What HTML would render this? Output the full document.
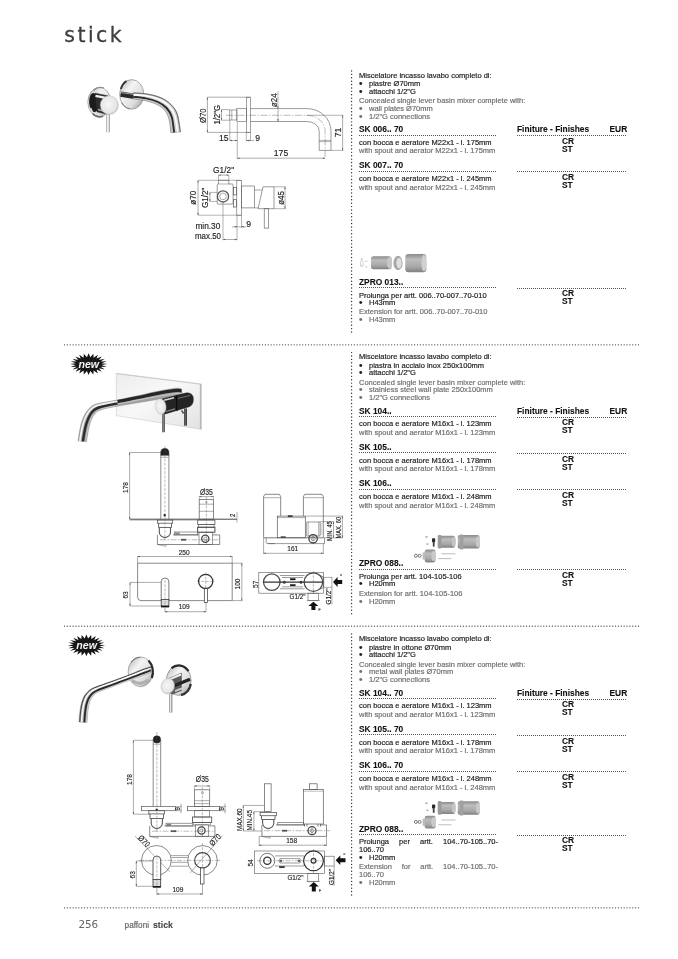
<!DOCTYPE html>
<html lang="it"><head><meta charset="utf-8"><title>paffoni stick</title>
<style>
html,body{margin:0;padding:0;background:#fff}
body{width:678px;height:959px;position:relative;overflow:hidden;font-family:"Liberation Sans",sans-serif}
.t{position:absolute;white-space:nowrap;font-size:7.5px;line-height:10px;color:#1c1c1c;-webkit-text-stroke:0.18px currentColor}
.g{color:#6e6e6e}
.b{font-weight:bold;font-size:8.4px;color:#111;-webkit-text-stroke:0.1px currentColor}
.hd{position:absolute;height:1px;background-image:repeating-linear-gradient(90deg,#8a8a8a 0,#8a8a8a 1px,transparent 1px,transparent 3px)}
.vd{position:absolute;width:1px;background-image:repeating-linear-gradient(180deg,#8a8a8a 0,#8a8a8a 1px,transparent 1px,transparent 3px)}
.sd{position:absolute;height:1px;background-image:repeating-linear-gradient(90deg,#555 0,#555 1px,transparent 1px,transparent 2px)}
.bu{font-size:9px}
svg{position:absolute;overflow:visible}
#page{position:absolute;left:0;top:0;width:678px;height:959px;will-change:transform}
</style></head>
<body>
<div id="page">
<div style="position:absolute;left:64.3px;top:20.5px;font:20.5px/28px 'DejaVu Sans',sans-serif;letter-spacing:2.45px;color:#3e3e3e;-webkit-text-stroke:0.3px #3e3e3e">stick</div>
<div style="position:absolute;left:78.4px;top:917.8px;font:10.4px/13px 'DejaVu Sans',sans-serif;color:#666">256</div>
<div class="t g" style="left:124.6px;top:920.75px;color:#666;font-size:8.2px">paffoni</div>
<div class="t b" style="left:153px;top:920.25px;color:#444;font-size:8.7px">stick</div>
<div class="t " style="left:359px;top:70.75px;">Miscelatore incasso lavabo completo di:</div>
<div class="t " style="left:359.1px;top:78.90px;font-size:10px">•</div>
<div class="t " style="left:369px;top:78.75px;">piastre Ø70mm</div>
<div class="t " style="left:359.1px;top:86.90px;font-size:10px">•</div>
<div class="t " style="left:369px;top:86.75px;">attacchi 1/2"G</div>
<div class="t g" style="left:359px;top:95.75px;">Concealed single lever basin mixer complete with:</div>
<div class="t g" style="left:359.1px;top:103.90px;font-size:10px">•</div>
<div class="t g" style="left:369px;top:103.75px;">wall plates Ø70mm</div>
<div class="t g" style="left:359.1px;top:111.90px;font-size:10px">•</div>
<div class="t g" style="left:369px;top:111.75px;">1/2"G connections</div>
<div class="t b" style="left:359px;top:124.25px;">SK 006.. 70</div>
<div class="sd" style="left:359px;top:134.5px;width:138px"></div>
<div class="sd" style="left:517px;top:135.1px;width:110px"></div>
<div class="t b" style="left:517px;top:124.25px;">Finiture - Finishes</div>
<div class="t b" style="left:609.5px;top:124.25px;">EUR</div>
<div class="t " style="left:359px;top:137.75px;">con bocca e aeratore M22x1 - l. 175mm</div>
<div class="t g" style="left:359px;top:145.75px;">with spout and aerator M22x1 - l. 175mm</div>
<div class="t b" style="left:562px;top:136.25px;">CR</div>
<div class="t b" style="left:562px;top:144.25px;">ST</div>
<div class="t b" style="left:359px;top:160.25px;">SK 007.. 70</div>
<div class="sd" style="left:359px;top:170.8px;width:138px"></div>
<div class="sd" style="left:517px;top:171.4px;width:110px"></div>
<div class="t " style="left:359px;top:173.75px;">con bocca e aeratore M22x1 - l. 245mm</div>
<div class="t g" style="left:359px;top:182.75px;">with spout and aerator M22x1 - l. 245mm</div>
<div class="t b" style="left:562px;top:172.25px;">CR</div>
<div class="t b" style="left:562px;top:180.25px;">ST</div>
<div class="t b" style="left:359px;top:277.25px;">ZPRO 013..</div>
<div class="sd" style="left:359px;top:287.2px;width:138px"></div>
<div class="sd" style="left:517px;top:287.8px;width:110px"></div>
<div class="t " style="left:359px;top:290.75px;">Prolunga per artt. 006..70-007..70-010</div>
<div class="t b" style="left:562px;top:288.25px;">CR</div>
<div class="t b" style="left:562px;top:296.25px;">ST</div>
<div class="t " style="left:359.1px;top:297.90px;font-size:10px">•</div>
<div class="t " style="left:369px;top:297.75px;">H43mm</div>
<div class="t g" style="left:359px;top:306.75px;">Extension for artt. 006..70-007..70-010</div>
<div class="t g" style="left:359.1px;top:314.90px;font-size:10px">•</div>
<div class="t g" style="left:369px;top:314.75px;">H43mm</div>
<div class="t " style="left:359px;top:351.75px;">Miscelatore incasso lavabo completo di:</div>
<div class="t " style="left:359.1px;top:360.90px;font-size:10px">•</div>
<div class="t " style="left:369px;top:360.75px;">piastra in acciaio inox 250x100mm</div>
<div class="t " style="left:359.1px;top:367.90px;font-size:10px">•</div>
<div class="t " style="left:369px;top:367.75px;">attacchi 1/2"G</div>
<div class="t g" style="left:359px;top:377.75px;">Concealed single lever basin mixer complete with:</div>
<div class="t g" style="left:359.1px;top:384.90px;font-size:10px">•</div>
<div class="t g" style="left:369px;top:384.75px;">stainless steel wall plate 250x100mm</div>
<div class="t g" style="left:359.1px;top:392.90px;font-size:10px">•</div>
<div class="t g" style="left:369px;top:392.75px;">1/2"G connections</div>
<div class="t b" style="left:359px;top:406.25px;">SK 104..</div>
<div class="sd" style="left:359px;top:416.0px;width:138px"></div>
<div class="sd" style="left:517px;top:416.6px;width:110px"></div>
<div class="t b" style="left:517px;top:406.25px;">Finiture - Finishes</div>
<div class="t b" style="left:609.5px;top:406.25px;">EUR</div>
<div class="t " style="left:359px;top:418.75px;">con bocca e aeratore M16x1 - l. 123mm</div>
<div class="t g" style="left:359px;top:427.75px;">with spout and aerator M16x1 - l. 123mm</div>
<div class="t b" style="left:562px;top:417.25px;">CR</div>
<div class="t b" style="left:562px;top:425.25px;">ST</div>
<div class="t b" style="left:359px;top:442.25px;">SK 105..</div>
<div class="sd" style="left:359px;top:452.4px;width:138px"></div>
<div class="sd" style="left:517px;top:453.0px;width:110px"></div>
<div class="t " style="left:359px;top:455.75px;">con bocca e aeratore M16x1 - l. 178mm</div>
<div class="t g" style="left:359px;top:463.75px;">with spout and aerator M16x1 - l. 178mm</div>
<div class="t b" style="left:562px;top:454.25px;">CR</div>
<div class="t b" style="left:562px;top:462.25px;">ST</div>
<div class="t b" style="left:359px;top:478.25px;">SK 106..</div>
<div class="sd" style="left:359px;top:488.8px;width:138px"></div>
<div class="sd" style="left:517px;top:489.40000000000003px;width:110px"></div>
<div class="t " style="left:359px;top:491.75px;">con bocca e aeratore M16x1 - l. 248mm</div>
<div class="t g" style="left:359px;top:500.75px;">with spout and aerator M16x1 - l. 248mm</div>
<div class="t b" style="left:562px;top:490.25px;">CR</div>
<div class="t b" style="left:562px;top:498.25px;">ST</div>
<div class="t b" style="left:359px;top:558.25px;">ZPRO 088..</div>
<div class="sd" style="left:359px;top:568.6999999999999px;width:138px"></div>
<div class="sd" style="left:517px;top:569.3px;width:110px"></div>
<div class="t " style="left:359px;top:571.75px;">Prolunga per artt. 104-105-106</div>
<div class="t b" style="left:562px;top:570.25px;">CR</div>
<div class="t b" style="left:562px;top:578.25px;">ST</div>
<div class="t " style="left:359.1px;top:578.90px;font-size:10px">•</div>
<div class="t " style="left:369px;top:578.75px;">H20mm</div>
<div class="t g" style="left:359px;top:588.75px;">Extension for artt. 104-105-106</div>
<div class="t g" style="left:359.1px;top:596.90px;font-size:10px">•</div>
<div class="t g" style="left:369px;top:596.75px;">H20mm</div>
<div class="t " style="left:359px;top:633.75px;">Miscelatore incasso lavabo completo di:</div>
<div class="t " style="left:359.1px;top:642.90px;font-size:10px">•</div>
<div class="t " style="left:369px;top:642.75px;">piastre in ottone Ø70mm</div>
<div class="t " style="left:359.1px;top:649.90px;font-size:10px">•</div>
<div class="t " style="left:369px;top:649.75px;">attacchi 1/2"G</div>
<div class="t g" style="left:359px;top:659.75px;">Concealed single lever basin mixer complete with:</div>
<div class="t g" style="left:359.1px;top:666.90px;font-size:10px">•</div>
<div class="t g" style="left:369px;top:666.75px;">metal wall plates Ø70mm</div>
<div class="t g" style="left:359.1px;top:674.90px;font-size:10px">•</div>
<div class="t g" style="left:369px;top:674.75px;">1/2"G connections</div>
<div class="t b" style="left:359px;top:688.25px;">SK 104.. 70</div>
<div class="sd" style="left:359px;top:698.0px;width:138px"></div>
<div class="sd" style="left:517px;top:698.6px;width:110px"></div>
<div class="t b" style="left:517px;top:688.25px;">Finiture - Finishes</div>
<div class="t b" style="left:609.5px;top:688.25px;">EUR</div>
<div class="t " style="left:359px;top:700.75px;">con bocca e aeratore M16x1 - l. 123mm</div>
<div class="t g" style="left:359px;top:709.75px;">with spout and aerator M16x1 - l. 123mm</div>
<div class="t b" style="left:562px;top:699.25px;">CR</div>
<div class="t b" style="left:562px;top:707.25px;">ST</div>
<div class="t b" style="left:359px;top:724.25px;">SK 105.. 70</div>
<div class="sd" style="left:359px;top:734.4px;width:138px"></div>
<div class="sd" style="left:517px;top:735.0px;width:110px"></div>
<div class="t " style="left:359px;top:737.75px;">con bocca e aeratore M16x1 - l. 178mm</div>
<div class="t g" style="left:359px;top:745.75px;">with spout and aerator M16x1 - l. 178mm</div>
<div class="t b" style="left:562px;top:736.25px;">CR</div>
<div class="t b" style="left:562px;top:744.25px;">ST</div>
<div class="t b" style="left:359px;top:760.25px;">SK 106.. 70</div>
<div class="sd" style="left:359px;top:770.8px;width:138px"></div>
<div class="sd" style="left:517px;top:771.4px;width:110px"></div>
<div class="t " style="left:359px;top:773.75px;">con bocca e aeratore M16x1 - l. 248mm</div>
<div class="t g" style="left:359px;top:782.75px;">with spout and aerator M16x1 - l. 248mm</div>
<div class="t b" style="left:562px;top:772.25px;">CR</div>
<div class="t b" style="left:562px;top:780.25px;">ST</div>
<div class="t b" style="left:359px;top:824.25px;">ZPRO 088..</div>
<div class="sd" style="left:359px;top:834.0px;width:138px"></div>
<div class="sd" style="left:517px;top:834.6px;width:110px"></div>
<div class="t b" style="left:562px;top:835.25px;">CR</div>
<div class="t b" style="left:562px;top:843.25px;">ST</div>
<div class="t " style="left:359px;top:836.75px;width:139px;white-space:normal;text-align:justify;text-align-last:justify">Prolunga per artt. 104..70-105..70-</div>
<div class="t " style="left:359px;top:844.75px;">106..70</div>
<div class="t " style="left:359.1px;top:852.90px;font-size:10px">•</div>
<div class="t " style="left:369px;top:852.75px;">H20mm</div>
<div class="t g" style="left:359px;top:861.75px;width:139px;white-space:normal;text-align:justify;text-align-last:justify">Extension for artt. 104..70-105..70-</div>
<div class="t g" style="left:359px;top:869.75px;">106..70</div>
<div class="t g" style="left:359.1px;top:877.90px;font-size:10px">•</div>
<div class="t g" style="left:369px;top:877.75px;">H20mm</div>
<svg width="678" height="959" viewBox="0 0 678 959" style="left:0;top:0" font-family="Liberation Sans, sans-serif"><line x1="64.5" y1="344.8" x2="639.5" y2="344.8" stroke="#444" stroke-width="1.3" stroke-linecap="round" stroke-dasharray="0.01 2.86"/>
<line x1="64.5" y1="626.2" x2="639.5" y2="626.2" stroke="#444" stroke-width="1.3" stroke-linecap="round" stroke-dasharray="0.01 2.86"/>
<line x1="64.5" y1="907.8" x2="639.5" y2="907.8" stroke="#444" stroke-width="1.3" stroke-linecap="round" stroke-dasharray="0.01 2.86"/>
<line x1="351.6" y1="71" x2="351.6" y2="334.5" stroke="#333" stroke-width="1.4" stroke-linecap="round" stroke-dasharray="0.01 3.38"/>
<line x1="351.6" y1="352.6" x2="351.6" y2="616.1" stroke="#333" stroke-width="1.4" stroke-linecap="round" stroke-dasharray="0.01 3.38"/>
<line x1="351.6" y1="633.9" x2="351.6" y2="897.4" stroke="#333" stroke-width="1.4" stroke-linecap="round" stroke-dasharray="0.01 3.38"/>
<g>
<line x1="207.4" y1="97.2" x2="207.4" y2="132.4" stroke="#585858" stroke-width="0.5" />
<path d="M207.4 97.2l-0.7 2.2h1.4zM207.4 132.4l-0.7 -2.2h1.4z" fill="#585858"/>
<line x1="207.4" y1="97.2" x2="250.5" y2="97.2" stroke="#585858" stroke-width="0.5" />
<line x1="207.4" y1="132.4" x2="250.5" y2="132.4" stroke="#585858" stroke-width="0.5" />
<text x="206.3" y="123" font-size="8.6" text-anchor="start" fill="#222" stroke="#222" stroke-width="0.15" transform="rotate(-90 206.3 123)"  textLength="14.6" lengthAdjust="spacingAndGlyphs">Ø70</text>
<text x="219.9" y="124.6" font-size="8.6" text-anchor="start" fill="#222" stroke="#222" stroke-width="0.15" transform="rotate(-90 219.9 124.6)"  textLength="19.5" lengthAdjust="spacingAndGlyphs">1/2"G</text>
<line x1="221.5" y1="109.6" x2="221.5" y2="120.2" stroke="#585858" stroke-width="0.5" />
<path d="M221.5 109.6l-0.7 2.2h1.4zM221.5 120.2l-0.7 -2.2h1.4z" fill="#585858"/>
<line x1="221.5" y1="109.6" x2="229.8" y2="109.6" stroke="#585858" stroke-width="0.5" />
<line x1="221.5" y1="120.2" x2="229.8" y2="120.2" stroke="#585858" stroke-width="0.5" />
<rect x="229.8" y="110" width="7.1" height="10" stroke="#585858" stroke-width="0.55" fill="none" />
<line x1="231.8" y1="110" x2="231.8" y2="120" stroke="#585858" stroke-width="0.45" />
<rect x="236.9" y="108.6" width="9.4" height="13" stroke="#585858" stroke-width="0.55" fill="none" />
<rect x="246.3" y="97.2" width="4.2" height="35.2" stroke="#585858" stroke-width="0.55" fill="none" />
<line x1="246.3" y1="132.4" x2="246.3" y2="141.2" stroke="#585858" stroke-width="0.45" />
<line x1="250.5" y1="132.4" x2="250.5" y2="141.2" stroke="#585858" stroke-width="0.45" />
<path d="M250.5 108.6H306.9A24.1 22.4 0 0 1 331 131V150.4H319.2V131A12.3 9.5 0 0 0 306.9 121.5H250.5" stroke="#585858" stroke-width="0.6" fill="none" />
<line x1="319.2" y1="140.4" x2="331" y2="140.4" stroke="#585858" stroke-width="0.45" />
<line x1="319.2" y1="141.6" x2="331" y2="141.6" stroke="#585858" stroke-width="0.45" />
<path d="M226 115.3H306.9A18.2 15.8 0 0 1 325.1 131V158.4" stroke="#555" stroke-width="0.4" fill="none" stroke-dasharray="7 1.5 1.5 1.5"/>
<line x1="306.9" y1="115.3" x2="343.5" y2="115.3" stroke="#585858" stroke-width="0.45" />
<line x1="331" y1="150.4" x2="343.5" y2="150.4" stroke="#585858" stroke-width="0.45" />
<line x1="342.6" y1="115.3" x2="342.6" y2="150.4" stroke="#585858" stroke-width="0.5" />
<path d="M342.6 115.3l-0.7 2.2h1.4zM342.6 150.4l-0.7 -2.2h1.4z" fill="#585858"/>
<text x="341.3" y="137.3" font-size="8.6" text-anchor="start" fill="#222" stroke="#222" stroke-width="0.15" transform="rotate(-90 341.3 137.3)" >71</text>
<line x1="237.3" y1="121.6" x2="237.3" y2="159" stroke="#585858" stroke-width="0.45" />
<line x1="237.3" y1="158.2" x2="325.1" y2="158.2" stroke="#585858" stroke-width="0.5" />
<path d="M237.3 158.2l2.2 -0.7v1.4zM325.1 158.2l-2.2 -0.7v1.4z" fill="#585858"/>
<text x="281" y="156.2" font-size="8.6" text-anchor="middle" fill="#222" stroke="#222" stroke-width="0.15" >175</text>
<line x1="229.8" y1="120" x2="229.8" y2="141.2" stroke="#585858" stroke-width="0.45" />
<line x1="229.8" y1="140.5" x2="237.3" y2="140.5" stroke="#585858" stroke-width="0.5" />
<path d="M229.8 140.5l2.2 -0.7v1.4zM237.3 140.5l-2.2 -0.7v1.4z" fill="#585858"/>
<text x="219" y="140.7" font-size="8.6" text-anchor="start" fill="#222" stroke="#222" stroke-width="0.15" >15</text>
<line x1="246.3" y1="140.5" x2="250.5" y2="140.5" stroke="#585858" stroke-width="0.5" />
<path d="M246.3 140.5l2.2 -0.7v1.4zM250.5 140.5l-2.2 -0.7v1.4z" fill="#585858"/>
<line x1="250.5" y1="140.5" x2="254" y2="140.5" stroke="#585858" stroke-width="0.45" />
<text x="255.2" y="140.7" font-size="8.6" text-anchor="start" fill="#222" stroke="#222" stroke-width="0.15" >9</text>
<line x1="278" y1="91" x2="278" y2="121.5" stroke="#585858" stroke-width="0.45" />
<path d="M278 108.6l-.7 -2.2h1.4zM278 121.5l-.7 -2.2h1.4z" fill="#444"/>
<text x="276.6" y="107" font-size="8.6" text-anchor="start" fill="#222" stroke="#222" stroke-width="0.15" transform="rotate(-90 276.6 107)"  textLength="13.5" lengthAdjust="spacingAndGlyphs">ø24</text>
</g>
<g>
<text x="213.1" y="172.7" font-size="8.6" text-anchor="start" fill="#222" stroke="#222" stroke-width="0.15"  textLength="21" lengthAdjust="spacingAndGlyphs">G1/2"</text>
<line x1="218.5" y1="175.1" x2="228.8" y2="175.1" stroke="#585858" stroke-width="0.5" />
<path d="M218.5 175.1l2.2 -0.7v1.4zM228.8 175.1l-2.2 -0.7v1.4z" fill="#585858"/>
<line x1="218.5" y1="175.1" x2="218.5" y2="180.3" stroke="#585858" stroke-width="0.45" />
<line x1="228.8" y1="175.1" x2="228.8" y2="180.3" stroke="#585858" stroke-width="0.45" />
<line x1="198" y1="180.3" x2="198" y2="215.2" stroke="#585858" stroke-width="0.5" />
<path d="M198 180.3l-0.7 2.2h1.4zM198 215.2l-0.7 -2.2h1.4z" fill="#585858"/>
<line x1="198" y1="180.3" x2="241.5" y2="180.3" stroke="#585858" stroke-width="0.45" />
<line x1="198" y1="215.2" x2="241.5" y2="215.2" stroke="#585858" stroke-width="0.45" />
<text x="196.4" y="204.8" font-size="8.6" text-anchor="start" fill="#222" stroke="#222" stroke-width="0.15" transform="rotate(-90 196.4 204.8)"  textLength="14" lengthAdjust="spacingAndGlyphs">ø70</text>
<text x="208.2" y="208" font-size="8.6" text-anchor="start" fill="#222" stroke="#222" stroke-width="0.15" transform="rotate(-90 208.2 208)"  textLength="20.3" lengthAdjust="spacingAndGlyphs">G1/2"</text>
<line x1="209.9" y1="192.4" x2="209.9" y2="201.4" stroke="#585858" stroke-width="0.5" />
<path d="M209.9 192.4l-0.7 2.2h1.4zM209.9 201.4l-0.7 -2.2h1.4z" fill="#585858"/>
<line x1="209.9" y1="192.4" x2="217.2" y2="192.4" stroke="#585858" stroke-width="0.45" />
<line x1="209.9" y1="201.4" x2="217.2" y2="201.4" stroke="#585858" stroke-width="0.45" />
<path d="M218.5 180.3H228.8V184H232.3Q233.1 184 233.1 185V203Q233.1 204.1 232 204.1H218.3Q217.2 204.1 217.2 203V185Q217.2 184 218.5 184Z" stroke="#585858" stroke-width="0.6" fill="none" />
<line x1="218.5" y1="184" x2="228.8" y2="184" stroke="#585858" stroke-width="0.45" />
<circle cx="223" cy="196.4" r="5.6" stroke="#555" stroke-width="1.3" fill="none" />
<circle cx="223" cy="196.4" r="3.3" stroke="#585858" stroke-width="0.5" fill="none" />
<rect x="233.5" y="187.6" width="3" height="7.3" stroke="#555" stroke-width="0.7" fill="none" />
<rect x="233.5" y="199.7" width="3" height="7.3" stroke="#555" stroke-width="0.7" fill="none" />
<rect x="236.8" y="180.3" width="4.7" height="34.9" stroke="#585858" stroke-width="0.55" fill="none" />
<line x1="237" y1="215.2" x2="237" y2="240.3" stroke="#585858" stroke-width="0.45" />
<line x1="241.5" y1="215.2" x2="241.5" y2="228" stroke="#585858" stroke-width="0.45" />
<rect x="241.5" y="186" width="13" height="21.9" stroke="#585858" stroke-width="0.6" fill="none" />
<path d="M254.5 190H262M254.5 207.9H258.3" stroke="#585858" stroke-width="0.55" fill="none" />
<path d="M263 186.8H274V208.7H258.1L263 186.8Z" stroke="#585858" stroke-width="0.6" fill="none" />
<rect x="264.2" y="208.7" width="4.5" height="19.4" stroke="#585858" stroke-width="0.6" fill="none" />
<line x1="274" y1="186.8" x2="285.8" y2="186.8" stroke="#585858" stroke-width="0.45" />
<line x1="274" y1="208.7" x2="285.8" y2="208.7" stroke="#585858" stroke-width="0.45" />
<line x1="285" y1="186.8" x2="285" y2="208.7" stroke="#585858" stroke-width="0.5" />
<path d="M285 186.8l-0.7 2.2h1.4zM285 208.7l-0.7 -2.2h1.4z" fill="#585858"/>
<text x="284" y="204.8" font-size="8.6" text-anchor="start" fill="#222" stroke="#222" stroke-width="0.15" transform="rotate(-90 284 204.8)"  textLength="13.7" lengthAdjust="spacingAndGlyphs">ø45</text>
<line x1="231.8" y1="226.8" x2="246" y2="226.8" stroke="#585858" stroke-width="0.45" />
<path d="M237 226.8l-2.2 -.7v1.4zM241.5 226.8l2.2 -.7v1.4z" fill="#444"/>
<text x="246.2" y="227.3" font-size="8.6" text-anchor="start" fill="#222" stroke="#222" stroke-width="0.15" >9</text>
<text x="195.4" y="229.4" font-size="8.6" text-anchor="start" fill="#222" stroke="#222" stroke-width="0.15"  textLength="25" lengthAdjust="spacingAndGlyphs">min.30</text>
<text x="195" y="239" font-size="8.6" text-anchor="start" fill="#222" stroke="#222" stroke-width="0.15"  textLength="26" lengthAdjust="spacingAndGlyphs">max.50</text>
<line x1="223" y1="202.5" x2="223" y2="240.3" stroke="#585858" stroke-width="0.45" />
<line x1="223" y1="239.5" x2="237" y2="239.5" stroke="#585858" stroke-width="0.5" />
<path d="M223 239.5l2.2 -0.7v1.4zM237 239.5l-2.2 -0.7v1.4z" fill="#585858"/>
</g>
<g>
<line x1="129.6" y1="452.5" x2="129.6" y2="519.2" stroke="#585858" stroke-width="0.5" />
<path d="M129.6 452.5l-0.7 2.2h1.4zM129.6 519.2l-0.7 -2.2h1.4z" fill="#585858"/>
<line x1="129.6" y1="452.5" x2="161" y2="452.5" stroke="#585858" stroke-width="0.5" />
<text x="128" y="493" font-size="7.8" text-anchor="start" fill="#222" stroke="#222" stroke-width="0.15" transform="translate(128 493) rotate(-90) scale(0.84 1) translate(-128 -493)" >178</text>
<line x1="129.6" y1="519.2" x2="237" y2="519.2" stroke="#333" stroke-width="0.9" />
<line x1="129.6" y1="520.2" x2="215" y2="520.2" stroke="#555" stroke-width="0.4" />
<path d="M160.8 519.2V454.5M168.9 454.5V519.2" stroke="#585858" stroke-width="0.7" fill="none" />
<path d="M160.8 455.3V452.3A4.05 3.9 0 0 1 168.9 452.3V455.3Z" stroke="#222" stroke-width="0.5" fill="#222" />
<line x1="161" y1="457.3" x2="168.7" y2="457.3" stroke="#585858" stroke-width="0.5" />
<line x1="164.9" y1="446" x2="164.9" y2="540" stroke="#555" stroke-width="0.4" stroke-dasharray="3 1.2"/>
<rect x="163.9" y="514.5" width="1.8" height="1.8" stroke="#222" stroke-width="0.3" fill="#222" />
<line x1="237" y1="512" x2="237" y2="522.5" stroke="#585858" stroke-width="0.5" />
<text x="235.2" y="517" font-size="7.2" text-anchor="start" fill="#222" stroke="#222" stroke-width="0.15" transform="translate(235.2 517) rotate(-90) scale(0.84 1) translate(-235.2 -517)" >2</text>
<text x="206.4" y="494.6" font-size="8.16" text-anchor="middle" fill="#222" stroke="#222" stroke-width="0.15" transform="translate(206.4 494.6) scale(0.84 1) translate(-206.4 -494.6)" >Ø35</text>
<line x1="199.2" y1="496.6" x2="213.6" y2="496.6" stroke="#585858" stroke-width="0.5" />
<path d="M199.2 496.6l2.2 -0.7v1.4zM213.6 496.6l-2.2 -0.7v1.4z" fill="#585858"/>
<line x1="199.2" y1="496" x2="199.2" y2="499.4" stroke="#585858" stroke-width="0.4" />
<line x1="213.6" y1="496" x2="213.6" y2="499.4" stroke="#585858" stroke-width="0.4" />
<rect x="199.2" y="499.4" width="14.4" height="19.8" stroke="#585858" stroke-width="0.7" fill="none" />
<line x1="199.2" y1="504.2" x2="213.6" y2="504.2" stroke="#585858" stroke-width="0.5" />
<line x1="199.2" y1="511.3" x2="213.6" y2="511.3" stroke="#585858" stroke-width="0.5" />
<line x1="206.4" y1="497" x2="206.4" y2="545" stroke="#555" stroke-width="0.4" stroke-dasharray="3 1.2"/>
<circle cx="206.4" cy="502" r="0.9" stroke="#585858" stroke-width="0.4" fill="none" />
<rect x="197.7" y="520" width="17.2" height="4.4" stroke="#585858" stroke-width="0.8" fill="none" />
<rect x="198.6" y="524.4" width="15.4" height="2.8" stroke="#585858" stroke-width="0.6" fill="none" />
<rect x="197.7" y="527.2" width="17.2" height="5" stroke="#333" stroke-width="0.9" fill="none" />
<rect x="199" y="532.2" width="13.5" height="12.3" stroke="#585858" stroke-width="0.6" fill="none" />
<circle cx="205.3" cy="538.8" r="3.6" stroke="#444" stroke-width="1.3" fill="none" />
<circle cx="205.3" cy="538.8" r="1.6" stroke="#585858" stroke-width="0.5" fill="none" />
<rect x="157.4" y="520" width="15.3" height="3.2" stroke="#585858" stroke-width="0.8" fill="none" />
<path d="M158.6 523.2V527.5H171.5V523.2" stroke="#585858" stroke-width="0.9" fill="none" />
<path d="M159.3 527.5V532A5.6 5.6 0 0 0 170.5 532V527.5" stroke="#585858" stroke-width="1.1" fill="none" />
<path d="M157.4 534.9V544.5H219.7V534.9H212.5M199 534.9H173" stroke="#585858" stroke-width="0.7" fill="none" />
<line x1="157.4" y1="544.5" x2="166" y2="546.3" stroke="#585858" stroke-width="0.5" />
<line x1="166" y1="546.3" x2="166" y2="544.5" stroke="#585858" stroke-width="0.5" />
<line x1="160" y1="539.8" x2="219" y2="539.8" stroke="#555" stroke-width="0.4" stroke-dasharray="6 1.5 1.5 1.5"/>
<rect x="174.6" y="532" width="23.1" height="2.9" stroke="#585858" stroke-width="0.6" fill="none" />
<rect x="175.5" y="532.8" width="4" height="1.3" stroke="#666" stroke-width="0.3" fill="#888" />
<rect x="181" y="539" width="5" height="1.4" stroke="#444" stroke-width="0.3" fill="#555" />
</g>
<g>
<path d="M263.6 537.5V496.5L265 494.3H279.3L280.7 496.5V516" stroke="#585858" stroke-width="0.7" fill="none" />
<line x1="263.6" y1="497.7" x2="280.7" y2="497.7" stroke="#585858" stroke-width="0.5" />
<path d="M303.4 516V496.5L304.8 494.3H321.9L323.3 496.5V537.5" stroke="#585858" stroke-width="0.7" fill="none" />
<line x1="303.4" y1="497.7" x2="323.3" y2="497.7" stroke="#585858" stroke-width="0.5" />
<rect x="277.3" y="516.1" width="28" height="21.7" stroke="#585858" stroke-width="0.7" fill="none" />
<line x1="277.3" y1="517.6" x2="305.3" y2="517.6" stroke="#585858" stroke-width="0.5" />
<rect x="288" y="515.6" width="4.5" height="1.2" stroke="#222" stroke-width="0.3" fill="#222" />
<rect x="281" y="536.6" width="4.5" height="1.2" stroke="#222" stroke-width="0.3" fill="#222" />
<line x1="263.6" y1="537.8" x2="323.3" y2="537.8" stroke="#585858" stroke-width="0.8" />
<path d="M266.2 537.8V542.5Q266.2 543.6 268 543.6H275M268 543.6H324.5V537.8" stroke="#585858" stroke-width="0.6" fill="none" />
<rect x="306.8" y="522" width="13.2" height="14" stroke="#585858" stroke-width="0.6" fill="none" />
<line x1="308.3" y1="522" x2="308.3" y2="536" stroke="#585858" stroke-width="0.4" />
<line x1="318.5" y1="522" x2="318.5" y2="536" stroke="#585858" stroke-width="0.4" />
<path d="M320 524h2.2M320 526h2.2M320 528h2.2M320 530h2.2M320 532h2.2M320 534h2.2" stroke="#585858" stroke-width="0.4" fill="none" />
<circle cx="313.1" cy="538.8" r="4.2" stroke="#444" stroke-width="1.3" fill="none" />
<circle cx="313.1" cy="538.8" r="2" stroke="#585858" stroke-width="0.5" fill="none" />
<line x1="313.1" y1="535.5" x2="313.1" y2="541.2" stroke="#585858" stroke-width="0.6" />
<line x1="263.6" y1="537.8" x2="263.6" y2="554" stroke="#585858" stroke-width="0.5" />
<line x1="323.3" y1="543.6" x2="323.3" y2="554" stroke="#585858" stroke-width="0.5" />
<line x1="263.6" y1="553.3" x2="323.3" y2="553.3" stroke="#585858" stroke-width="0.5" />
<path d="M263.6 553.3l2.2 -0.7v1.4zM323.3 553.3l-2.2 -0.7v1.4z" fill="#585858"/>
<text x="292.8" y="551" font-size="7.8" text-anchor="middle" fill="#222" stroke="#222" stroke-width="0.15" transform="translate(292.8 551) scale(0.84 1) translate(-292.8 -551)" >161</text>
<line x1="305.3" y1="516.1" x2="343.2" y2="516.1" stroke="#585858" stroke-width="0.5" />
<line x1="320" y1="521.7" x2="334.3" y2="521.7" stroke="#585858" stroke-width="0.5" />
<line x1="323.3" y1="537.8" x2="343.2" y2="537.8" stroke="#585858" stroke-width="0.5" />
<line x1="333.5" y1="521.7" x2="333.5" y2="537.8" stroke="#585858" stroke-width="0.5" />
<path d="M333.5 521.7l-0.7 2.2h1.4zM333.5 537.8l-0.7 -2.2h1.4z" fill="#585858"/>
<line x1="342.4" y1="516.1" x2="342.4" y2="537.8" stroke="#585858" stroke-width="0.5" />
<path d="M342.4 516.1l-0.7 2.2h1.4zM342.4 537.8l-0.7 -2.2h1.4z" fill="#585858"/>
<text x="332" y="541" font-size="6.72" text-anchor="start" fill="#222" stroke="#222" stroke-width="0.15" transform="translate(332 541) rotate(-90) scale(0.84 1) translate(-332 -541)" >MIN. 45</text>
<text x="340.9" y="538.5" font-size="6.72" text-anchor="start" fill="#222" stroke="#222" stroke-width="0.15" transform="translate(340.9 538.5) rotate(-90) scale(0.84 1) translate(-340.9 -538.5)" >MAX. 60</text>
</g>
<g>
<path d="M137.6 563.2H232.2V600.6H141Q137.6 600.6 137.6 597Z" stroke="#585858" stroke-width="0.7" fill="none" />
<line x1="137.6" y1="556" x2="137.6" y2="563.2" stroke="#585858" stroke-width="0.5" />
<line x1="232.2" y1="556" x2="232.2" y2="563.2" stroke="#585858" stroke-width="0.5" />
<line x1="137.6" y1="556.5" x2="232.2" y2="556.5" stroke="#585858" stroke-width="0.5" />
<path d="M137.6 556.5l2.2 -0.7v1.4zM232.2 556.5l-2.2 -0.7v1.4z" fill="#585858"/>
<text x="184.2" y="554.6" font-size="7.8" text-anchor="middle" fill="#222" stroke="#222" stroke-width="0.15" transform="translate(184.2 554.6) scale(0.84 1) translate(-184.2 -554.6)" >250</text>
<line x1="232.2" y1="563.2" x2="242.6" y2="563.2" stroke="#585858" stroke-width="0.5" />
<line x1="232.2" y1="600.6" x2="242.6" y2="600.6" stroke="#585858" stroke-width="0.5" />
<line x1="241.8" y1="563.2" x2="241.8" y2="600.6" stroke="#585858" stroke-width="0.5" />
<path d="M241.8 563.2l-0.7 2.2h1.4zM241.8 600.6l-0.7 -2.2h1.4z" fill="#585858"/>
<text x="240.2" y="589.5" font-size="7.8" text-anchor="start" fill="#222" stroke="#222" stroke-width="0.15" transform="translate(240.2 589.5) rotate(-90) scale(0.84 1) translate(-240.2 -589.5)" >100</text>
<path d="M161.2 599.6V582A3.85 4 0 0 1 168.9 582V599.6" stroke="#585858" stroke-width="0.8" fill="none" />
<rect x="161.2" y="599.6" width="7.7" height="6.4" stroke="#333" stroke-width="0.8" fill="#ddd" />
<line x1="161" y1="606.6" x2="169.1" y2="606.6" stroke="#111" stroke-width="1.6" />
<line x1="165" y1="580" x2="165" y2="606" stroke="#555" stroke-width="0.4" stroke-dasharray="3 1.2"/>
<circle cx="205.7" cy="581.4" r="7.1" stroke="#333" stroke-width="1.3" fill="none" />
<line x1="197" y1="581.4" x2="214.5" y2="581.4" stroke="#555" stroke-width="0.4" stroke-dasharray="3 1.2"/>
<line x1="205.7" y1="572.5" x2="205.7" y2="590" stroke="#555" stroke-width="0.4" stroke-dasharray="3 1.2"/>
<rect x="204.3" y="588.7" width="3.3" height="13.8" stroke="#333" stroke-width="0.7" fill="#fff" />
<line x1="130" y1="582.4" x2="161" y2="582.4" stroke="#585858" stroke-width="0.5" />
<line x1="130" y1="606" x2="161" y2="606" stroke="#585858" stroke-width="0.5" />
<line x1="130" y1="582.4" x2="130" y2="606" stroke="#585858" stroke-width="0.5" />
<path d="M130 582.4l-0.7 2.2h1.4zM130 606l-0.7 -2.2h1.4z" fill="#585858"/>
<text x="128.3" y="598.5" font-size="7.8" text-anchor="start" fill="#222" stroke="#222" stroke-width="0.15" transform="translate(128.3 598.5) rotate(-90) scale(0.84 1) translate(-128.3 -598.5)" >63</text>
<line x1="165" y1="607.5" x2="165" y2="612.4" stroke="#585858" stroke-width="0.5" />
<line x1="206" y1="602.5" x2="206" y2="612.4" stroke="#585858" stroke-width="0.5" />
<line x1="165" y1="611.7" x2="206" y2="611.7" stroke="#585858" stroke-width="0.5" />
<path d="M165 611.7l2.2 -0.7v1.4zM206 611.7l-2.2 -0.7v1.4z" fill="#585858"/>
<text x="184.2" y="609.3" font-size="7.8" text-anchor="middle" fill="#222" stroke="#222" stroke-width="0.15" transform="translate(184.2 609.3) scale(0.84 1) translate(-184.2 -609.3)" >109</text>
</g>
<g>
<rect x="258.8" y="572.5" width="64.9" height="20.7" stroke="#585858" stroke-width="0.6" fill="none" />
<text x="258" y="588" font-size="7.8" text-anchor="start" fill="#222" stroke="#222" stroke-width="0.15" transform="translate(258 588) rotate(-90) scale(0.84 1) translate(-258 -588)" >57</text>
<circle cx="271.8" cy="582.1" r="8.3" stroke="#4a4a4a" stroke-width="1.2" fill="none" />
<circle cx="313.4" cy="582.1" r="9.3" stroke="#4a4a4a" stroke-width="1.2" fill="none" />
<path d="M280 575.5H304.5M280 588.8H304.5M282 577.5H303M282 586.8H303" stroke="#585858" stroke-width="0.6" fill="none" />
<line x1="263" y1="582.1" x2="323" y2="582.1" stroke="#333" stroke-width="1.3" />
<rect x="290.3" y="578.5" width="5" height="1.5" stroke="#111" stroke-width="0.3" fill="#111" />
<rect x="290.3" y="584.4" width="5" height="1.5" stroke="#111" stroke-width="0.3" fill="#111" />
<circle cx="284.3" cy="582.3" r="1.2" stroke="#222" stroke-width="0.5" fill="#444" />
<circle cx="301" cy="582.3" r="1.2" stroke="#222" stroke-width="0.5" fill="#444" />
<line x1="313.4" y1="571" x2="313.4" y2="594" stroke="#555" stroke-width="0.4" stroke-dasharray="3 1.2"/>
<path d="M319.5 575L323.7 577.4V587.3L319.5 589.5" stroke="#585858" stroke-width="0.8" fill="none" />
<rect x="308" y="593.2" width="10.6" height="7.4" stroke="#585858" stroke-width="0.6" fill="none" />
<text x="289.5" y="599.1" font-size="7.56" text-anchor="start" fill="#222" stroke="#222" stroke-width="0.15" transform="translate(289.5 599.1) scale(0.84 1) translate(-289.5 -599.1)" >G1/2"</text>
<text x="331" y="604.5" font-size="7.56" text-anchor="start" fill="#222" stroke="#222" stroke-width="0.15" transform="translate(331 604.5) rotate(-90) scale(0.84 1) translate(-331 -604.5)" >G1/2"</text>
<line x1="323.7" y1="577.4" x2="332.4" y2="577.4" stroke="#585858" stroke-width="0.5" />
<line x1="323.7" y1="587.3" x2="332.4" y2="587.3" stroke="#585858" stroke-width="0.5" />
<line x1="331.9" y1="577.4" x2="331.9" y2="604.5" stroke="#585858" stroke-width="0.5" />
<line x1="306.8" y1="600.6" x2="320" y2="600.6" stroke="#585858" stroke-width="0.5" />
<path d="M333 582.1l4.6 -5v3h4.6v4h-4.6v3z" fill="#111"/>
<path d="M313.4 601.7l5 4.4h-3v4h-4v-4h-3z" fill="#111"/>
<text x="340" y="576" font-size="4.2" text-anchor="start" fill="#222" stroke="#222" stroke-width="0.15" transform="translate(340 576) scale(0.84 1) translate(-340 -576)" >c</text>
<text x="318.6" y="611" font-size="4.2" text-anchor="start" fill="#222" stroke="#222" stroke-width="0.15" transform="translate(318.6 611) scale(0.84 1) translate(-318.6 -611)" >F</text>
</g>
<g>
<line x1="133.4" y1="740.3" x2="133.4" y2="814.2" stroke="#585858" stroke-width="0.5" />
<path d="M133.4 740.3l-0.7 2.2h1.4zM133.4 814.2l-0.7 -2.2h1.4z" fill="#585858"/>
<line x1="133.4" y1="740.3" x2="153" y2="740.3" stroke="#585858" stroke-width="0.5" />
<line x1="133.4" y1="814.2" x2="150" y2="814.2" stroke="#585858" stroke-width="0.5" />
<text x="131.8" y="785" font-size="7.8" text-anchor="start" fill="#222" stroke="#222" stroke-width="0.15" transform="translate(131.8 785) rotate(-90) scale(0.84 1) translate(-131.8 -785)" >178</text>
<path d="M153.2 806.5V740M160.7 740V806.5" stroke="#585858" stroke-width="0.7" fill="none" />
<circle cx="156.9" cy="739.4" r="3.7" stroke="#222" stroke-width="0.5" fill="#222" />
<line x1="153.4" y1="744.2" x2="160.5" y2="744.2" stroke="#585858" stroke-width="0.5" />
<line x1="156.9" y1="732" x2="156.9" y2="832" stroke="#555" stroke-width="0.4" stroke-dasharray="3 1.2"/>
<rect x="141.5" y="806.5" width="34.1" height="4.2" stroke="#585858" stroke-width="0.7" fill="none" />
<line x1="175.6" y1="806.5" x2="182" y2="806.5" stroke="#585858" stroke-width="0.4" />
<line x1="175.6" y1="810.7" x2="182" y2="810.7" stroke="#585858" stroke-width="0.4" />
<line x1="181" y1="803.6" x2="181" y2="813.4" stroke="#585858" stroke-width="0.5" />
<text x="179.7" y="810.6" font-size="7.2" text-anchor="start" fill="#222" stroke="#222" stroke-width="0.15" transform="translate(179.7 810.6) rotate(-90) scale(0.84 1) translate(-179.7 -810.6)" >9</text>
<rect x="155.9" y="809" width="1.8" height="1.8" stroke="#222" stroke-width="0.3" fill="#222" />
<rect x="148.8" y="810.7" width="15.7" height="3.2" stroke="#585858" stroke-width="0.8" fill="none" />
<path d="M150 813.9V818.5H163.5V813.9" stroke="#585858" stroke-width="0.9" fill="none" />
<path d="M151.2 818.5V823A5.6 5.6 0 0 0 162.4 823V818.5" stroke="#585858" stroke-width="1.1" fill="none" />
<text x="202.3" y="782.5" font-size="8.16" text-anchor="middle" fill="#222" stroke="#222" stroke-width="0.15" transform="translate(202.3 782.5) scale(0.84 1) translate(-202.3 -782.5)" >Ø35</text>
<line x1="194.4" y1="786" x2="209.7" y2="786" stroke="#585858" stroke-width="0.5" />
<path d="M194.4 786l2.2 -0.7v1.4zM209.7 786l-2.2 -0.7v1.4z" fill="#585858"/>
<line x1="194.4" y1="785.4" x2="194.4" y2="789.8" stroke="#585858" stroke-width="0.4" />
<line x1="209.7" y1="785.4" x2="209.7" y2="789.8" stroke="#585858" stroke-width="0.4" />
<rect x="194.4" y="789.8" width="15.3" height="16.7" stroke="#585858" stroke-width="0.7" fill="none" />
<line x1="194.4" y1="800.7" x2="209.7" y2="800.7" stroke="#585858" stroke-width="0.5" />
<line x1="194.4" y1="803.6" x2="209.7" y2="803.6" stroke="#585858" stroke-width="0.5" />
<circle cx="202.5" cy="792.7" r="1.1" stroke="#585858" stroke-width="0.4" fill="none" />
<line x1="202.3" y1="787" x2="202.3" y2="836" stroke="#555" stroke-width="0.4" stroke-dasharray="3 1.2"/>
<rect x="187.5" y="806.5" width="32.2" height="4.2" stroke="#585858" stroke-width="0.7" fill="none" />
<line x1="219.7" y1="806.5" x2="226" y2="806.5" stroke="#585858" stroke-width="0.4" />
<line x1="219.7" y1="810.7" x2="226" y2="810.7" stroke="#585858" stroke-width="0.4" />
<line x1="225" y1="803.6" x2="225" y2="813.4" stroke="#585858" stroke-width="0.5" />
<text x="223.8" y="810.6" font-size="7.2" text-anchor="start" fill="#222" stroke="#222" stroke-width="0.15" transform="translate(223.8 810.6) rotate(-90) scale(0.84 1) translate(-223.8 -810.6)" >9</text>
<rect x="194.4" y="810.7" width="15.3" height="6.3" stroke="#585858" stroke-width="0.6" fill="none" />
<rect x="192.5" y="817" width="19.2" height="5.5" stroke="#585858" stroke-width="0.9" fill="none" />
<rect x="193.8" y="822.5" width="16.5" height="2.4" stroke="#585858" stroke-width="0.5" fill="none" />
<rect x="195.5" y="824.9" width="13" height="11.5" stroke="#585858" stroke-width="0.6" fill="none" />
<circle cx="201.5" cy="830.5" r="3.6" stroke="#444" stroke-width="1.3" fill="none" />
<circle cx="201.5" cy="830.5" r="1.6" stroke="#585858" stroke-width="0.5" fill="none" />
<rect x="166" y="823.2" width="26.5" height="2.8" stroke="#585858" stroke-width="0.6" fill="none" />
<rect x="167" y="824" width="4" height="1.3" stroke="#666" stroke-width="0.3" fill="#888" />
<path d="M149.7 825.9V836.4H214.9V825.9H208.5M195.5 825.9H164.5" stroke="#585858" stroke-width="0.7" fill="none" />
<line x1="149.7" y1="836.4" x2="158" y2="838.2" stroke="#585858" stroke-width="0.5" />
<line x1="158" y1="838.2" x2="158" y2="836.4" stroke="#585858" stroke-width="0.5" />
<line x1="152" y1="831.2" x2="214" y2="831.2" stroke="#555" stroke-width="0.4" stroke-dasharray="6 1.5 1.5 1.5"/>
<rect x="171" y="830.5" width="5" height="1.4" stroke="#444" stroke-width="0.3" fill="#555" />
</g>
<g>
<circle cx="156.4" cy="860.4" r="14.9" stroke="#585858" stroke-width="0.7" fill="none" />
<circle cx="202.5" cy="860.4" r="14.8" stroke="#585858" stroke-width="0.7" fill="none" />
<circle cx="202.5" cy="860.4" r="7.8" stroke="#444" stroke-width="1.2" fill="none" />
<path d="M171 855.6H188M171.3 857.5H187.8M171.3 862.3H187.8M171 866.2H188" stroke="#585858" stroke-width="0.55" fill="none" />
<line x1="139" y1="860.4" x2="220" y2="860.4" stroke="#555" stroke-width="0.4" stroke-dasharray="5 1.5 1.5 1.5"/>
<line x1="202.5" y1="843" x2="202.5" y2="878" stroke="#555" stroke-width="0.4" stroke-dasharray="3 1.2"/>
<line x1="135" y1="836" x2="169.9" y2="871.9" stroke="#585858" stroke-width="0.45" />
<line x1="222.6" y1="835.5" x2="190" y2="872.9" stroke="#585858" stroke-width="0.45" />
<text x="137.5" y="838.6" font-size="8.16" text-anchor="start" fill="#222" stroke="#222" stroke-width="0.15" transform="translate(137.5 838.6) rotate(45) scale(0.84 1) translate(-137.5 -838.6)" >Ø70</text>
<text x="212.8" y="846.5" font-size="8.16" text-anchor="start" fill="#222" stroke="#222" stroke-width="0.15" transform="translate(212.8 846.5) rotate(-48) scale(0.84 1) translate(-212.8 -846.5)" >Ø70</text>
<path d="M153 879.6V860A3.85 4 0 0 1 160.7 860V879.6" stroke="#333" stroke-width="0.8" fill="#fff" />
<rect x="153" y="879.6" width="7.7" height="7" stroke="#333" stroke-width="0.8" fill="#ddd" />
<line x1="152.8" y1="886.9" x2="160.9" y2="886.9" stroke="#111" stroke-width="1.6" />
<line x1="156.9" y1="857" x2="156.9" y2="886" stroke="#555" stroke-width="0.4" stroke-dasharray="3 1.2"/>
<rect x="200.6" y="868" width="3.4" height="16" stroke="#333" stroke-width="0.7" fill="#fff" />
<line x1="136.3" y1="861" x2="153" y2="861" stroke="#585858" stroke-width="0.5" />
<line x1="136.3" y1="886.3" x2="153" y2="886.3" stroke="#585858" stroke-width="0.5" />
<line x1="136.3" y1="861" x2="136.3" y2="886.3" stroke="#585858" stroke-width="0.5" />
<path d="M136.3 861l-0.7 2.2h1.4zM136.3 886.3l-0.7 -2.2h1.4z" fill="#585858"/>
<text x="134.7" y="878.5" font-size="7.8" text-anchor="start" fill="#222" stroke="#222" stroke-width="0.15" transform="translate(134.7 878.5) rotate(-90) scale(0.84 1) translate(-134.7 -878.5)" >63</text>
<line x1="156.9" y1="888" x2="156.9" y2="894.8" stroke="#585858" stroke-width="0.5" />
<line x1="202.5" y1="884" x2="202.5" y2="894.8" stroke="#585858" stroke-width="0.5" />
<line x1="156.9" y1="894" x2="202.5" y2="894" stroke="#585858" stroke-width="0.5" />
<path d="M156.9 894l2.2 -0.7v1.4zM202.5 894l-2.2 -0.7v1.4z" fill="#585858"/>
<text x="177.9" y="891.7" font-size="7.8" text-anchor="middle" fill="#222" stroke="#222" stroke-width="0.15" transform="translate(177.9 891.7) scale(0.84 1) translate(-177.9 -891.7)" >109</text>
</g>
<g>
<rect x="264.5" y="783.8" width="6.6" height="27.8" stroke="#585858" stroke-width="0.7" fill="none" />
<rect x="260.1" y="812.5" width="16.3" height="3.2" stroke="#585858" stroke-width="0.8" fill="none" />
<path d="M261.5 815.7V819.5H275V815.7" stroke="#585858" stroke-width="0.9" fill="none" />
<path d="M262.6 819.5V823A5.6 5.6 0 0 0 273.8 823V819.5" stroke="#585858" stroke-width="1.1" fill="none" />
<rect x="303.5" y="789.5" width="19.8" height="34.5" stroke="#585858" stroke-width="0.7" fill="none" />
<line x1="303.5" y1="791.2" x2="323.3" y2="791.2" stroke="#585858" stroke-width="0.4" />
<rect x="309.6" y="783.8" width="7.5" height="5.7" stroke="#585858" stroke-width="0.7" fill="none" />
<path d="M261.9 824.9V836.4H326.5V824.9H320M305 824.9H276" stroke="#585858" stroke-width="0.7" fill="none" />
<line x1="261.9" y1="836.4" x2="270" y2="838.2" stroke="#585858" stroke-width="0.5" />
<line x1="270" y1="838.2" x2="270" y2="836.4" stroke="#585858" stroke-width="0.5" />
<rect x="277.8" y="822.5" width="25.7" height="2.4" stroke="#585858" stroke-width="0.6" fill="none" />
<path d="M304.5 824v2.5M307 824v2.5M318 824v2.5M320.5 824v2.5" stroke="#585858" stroke-width="0.8" fill="none" />
<circle cx="312" cy="830.7" r="4" stroke="#444" stroke-width="1.3" fill="none" />
<circle cx="312" cy="830.7" r="1.8" stroke="#585858" stroke-width="0.5" fill="none" />
<line x1="312" y1="827.5" x2="312" y2="834" stroke="#585858" stroke-width="0.6" />
<line x1="264" y1="830.7" x2="330" y2="830.7" stroke="#555" stroke-width="0.4" stroke-dasharray="6 1.5 1.5 1.5"/>
<rect x="282" y="830" width="5" height="1.4" stroke="#444" stroke-width="0.3" fill="#555" />
<line x1="243.3" y1="805.4" x2="264.5" y2="805.4" stroke="#585858" stroke-width="0.5" />
<line x1="253.9" y1="811.6" x2="264.5" y2="811.6" stroke="#585858" stroke-width="0.5" />
<line x1="243.3" y1="831" x2="262" y2="831" stroke="#585858" stroke-width="0.5" />
<line x1="243.3" y1="805.4" x2="243.3" y2="831" stroke="#585858" stroke-width="0.5" />
<path d="M243.3 805.4l-0.7 2.2h1.4zM243.3 831l-0.7 -2.2h1.4z" fill="#585858"/>
<line x1="253.9" y1="811.6" x2="253.9" y2="831" stroke="#585858" stroke-width="0.5" />
<path d="M253.9 811.6l-0.7 2.2h1.4zM253.9 831l-0.7 -2.2h1.4z" fill="#585858"/>
<text x="241.6" y="831" font-size="7.56" text-anchor="start" fill="#222" stroke="#222" stroke-width="0.15" transform="translate(241.6 831) rotate(-90) scale(0.84 1) translate(-241.6 -831)" >MAX.60</text>
<text x="252.2" y="830.5" font-size="7.56" text-anchor="start" fill="#222" stroke="#222" stroke-width="0.15" transform="translate(252.2 830.5) rotate(-90) scale(0.84 1) translate(-252.2 -830.5)" >MIN.45</text>
<line x1="259.2" y1="836.4" x2="259.2" y2="846" stroke="#585858" stroke-width="0.5" />
<line x1="326.5" y1="836.4" x2="326.5" y2="846" stroke="#585858" stroke-width="0.5" />
<line x1="259.2" y1="836.4" x2="262" y2="836.4" stroke="#585858" stroke-width="0.5" />
<line x1="259.2" y1="845.2" x2="326.5" y2="845.2" stroke="#585858" stroke-width="0.5" />
<path d="M259.2 845.2l2.2 -0.7v1.4zM326.5 845.2l-2.2 -0.7v1.4z" fill="#585858"/>
<text x="291.6" y="842.9" font-size="7.8" text-anchor="middle" fill="#222" stroke="#222" stroke-width="0.15" transform="translate(291.6 842.9) scale(0.84 1) translate(-291.6 -842.9)" >158</text>
</g>
<g>
<rect x="254.3" y="851" width="70.1" height="22.3" stroke="#585858" stroke-width="0.6" fill="none" />
<text x="253" y="866.5" font-size="7.8" text-anchor="start" fill="#222" stroke="#222" stroke-width="0.15" transform="translate(253 866.5) rotate(-90) scale(0.84 1) translate(-253 -866.5)" >54</text>
<circle cx="267.3" cy="860.8" r="7.5" stroke="#585858" stroke-width="0.8" fill="none" />
<circle cx="267.3" cy="860.8" r="3.6" stroke="#333" stroke-width="1.3" fill="none" />
<circle cx="313.5" cy="860.8" r="9.9" stroke="#333" stroke-width="1.2" fill="none" />
<circle cx="313.5" cy="860.8" r="2.4" stroke="#333" stroke-width="1.2" fill="none" />
<path d="M275 855.9H304M275 866H304" stroke="#585858" stroke-width="0.6" fill="none" />
<path d="M280 858.6H300Q302 860.8 300 863H280Q278 860.8 280 858.6Z" stroke="#585858" stroke-width="0.6" fill="none" />
<line x1="257" y1="860.8" x2="323" y2="860.8" stroke="#555" stroke-width="0.4" stroke-dasharray="5 1.5 1.5 1.5"/>
<line x1="313.5" y1="849" x2="313.5" y2="874" stroke="#555" stroke-width="0.4" stroke-dasharray="3 1.2"/>
<circle cx="281" cy="860.8" r="0.9" stroke="#222" stroke-width="0.4" fill="#444" />
<circle cx="299" cy="860.8" r="0.9" stroke="#222" stroke-width="0.4" fill="#444" />
<rect x="279.5" y="866.3" width="5" height="1.6" stroke="#222" stroke-width="0.3" fill="#333" />
<rect x="324.4" y="856.2" width="9.7" height="9.8" stroke="#585858" stroke-width="0.6" fill="none" />
<rect x="307.8" y="873.3" width="10.9" height="8.1" stroke="#585858" stroke-width="0.6" fill="none" />
<text x="287.4" y="879.7" font-size="7.56" text-anchor="start" fill="#222" stroke="#222" stroke-width="0.15" transform="translate(287.4 879.7) scale(0.84 1) translate(-287.4 -879.7)" >G1/2"</text>
<text x="334" y="885" font-size="7.56" text-anchor="start" fill="#222" stroke="#222" stroke-width="0.15" transform="translate(334 885) rotate(-90) scale(0.84 1) translate(-334 -885)" >G1/2"</text>
<line x1="334.1" y1="866" x2="334.1" y2="886" stroke="#585858" stroke-width="0.5" />
<line x1="306.5" y1="881.4" x2="320" y2="881.4" stroke="#585858" stroke-width="0.5" />
<path d="M335.7 860.3l4.6 -4.8v2.8h5.2v4h-5.2v2.8z" fill="#111"/>
<path d="M313.8 881.9l5 4.6h-3v5.1h-4v-5.1h-3z" fill="#111"/>
<text x="343.5" y="855" font-size="4.2" text-anchor="start" fill="#222" stroke="#222" stroke-width="0.15" transform="translate(343.5 855) scale(0.84 1) translate(-343.5 -855)" >c</text>
<text x="319" y="892" font-size="4.2" text-anchor="start" fill="#222" stroke="#222" stroke-width="0.15" transform="translate(319 892) scale(0.84 1) translate(-319 -892)" >F</text>
</g>
<defs>
<linearGradient id="chr" x1="0" y1="0" x2="0" y2="1"><stop offset="0" stop-color="#333"/><stop offset=".25" stop-color="#bbb"/><stop offset=".45" stop-color="#fff"/><stop offset=".7" stop-color="#999"/><stop offset="1" stop-color="#222"/></linearGradient>
<linearGradient id="chrh" x1="0" y1="0" x2="1" y2="0"><stop offset="0" stop-color="#444"/><stop offset=".3" stop-color="#eee"/><stop offset=".55" stop-color="#fff"/><stop offset=".8" stop-color="#888"/><stop offset="1" stop-color="#333"/></linearGradient>
<linearGradient id="plate" x1="0" y1="0" x2="1" y2="1"><stop offset="0" stop-color="#ededed"/><stop offset=".45" stop-color="#f8f8f8"/><stop offset="1" stop-color="#e2e2e2"/></linearGradient>
<radialGradient id="knob" cx=".45" cy=".45" r=".6"><stop offset="0" stop-color="#f6f6f6"/><stop offset=".75" stop-color="#e6e6e6"/><stop offset="1" stop-color="#bdbdbd"/></radialGradient>
<linearGradient id="disc" x1="0" y1="0" x2="1" y2="1"><stop offset="0" stop-color="#b0b0b0"/><stop offset=".35" stop-color="#f4f4f4"/><stop offset=".7" stop-color="#dcdcdc"/><stop offset="1" stop-color="#8c8c8c"/></linearGradient>
<linearGradient id="cyl" x1="0" y1="0" x2="0" y2="1"><stop offset="0" stop-color="#8a8a8a"/><stop offset=".3" stop-color="#bdbdbd"/><stop offset=".7" stop-color="#a8a8a8"/><stop offset="1" stop-color="#808080"/></linearGradient>
</defs>
<g>
<ellipse cx="99.4" cy="102.1" rx="11.6" ry="14.7" stroke="#666" stroke-width="0.5" fill="url(#disc)" />
<ellipse cx="94" cy="102.6" rx="4.9" ry="9.6" fill="#1c1c1c" transform="rotate(-4 94 102.6)"/>
<path d="M92.5 113.5A11.6 14.7 0 0 0 103 116.4" stroke="#666" stroke-width="1.4" fill="none" />
<path d="M93.5 90.5A11.6 14.7 0 0 1 104 88" stroke="#888" stroke-width="1.1" fill="none" />
<path d="M90.5 108L92.5 112.5" stroke="#ddd" stroke-width="1.6" fill="none" />
<path d="M95 93L108 95.8V114.5L97 112Z" stroke="#222" stroke-width="0.3" fill="#2e2e2e" />
<path d="M95.5 95.8L107 98.2" stroke="#f0f0f0" stroke-width="2.4" fill="none" />
<path d="M98 109.5L106 111.8" stroke="#b0b0b0" stroke-width="1.4" fill="none" />
<ellipse cx="109.3" cy="105.2" rx="9" ry="9.4" stroke="#aaa" stroke-width="0.4" fill="url(#knob)" />
<path d="M108 114.5V132.2" stroke="#9a9a9a" stroke-width="3.6" fill="none" />
<path d="M107.8 114.5V132.2" stroke="#f0f0f0" stroke-width="2" fill="none" />
<ellipse cx="131.7" cy="94.4" rx="12.1" ry="14.8" stroke="#666" stroke-width="0.5" fill="url(#disc)" />
<path d="M120.8 89A12.1 14.8 0 0 1 126.5 81" stroke="#333" stroke-width="1.8" fill="none" />
<path d="M121.5 102.5A12.1 14.8 0 0 0 130 109" stroke="#777" stroke-width="1" fill="none" />
<path d="M120.6 94.2L134.5 96.4" stroke="#2a2a2a" stroke-width="5.4" fill="none" />
<path d="M121 92.6L134 94.4" stroke="#b0b0b0" stroke-width="0.9" fill="none" />
<path d="M133.5 92.8C135.9 93.0 143.5 93.3 148.1 94.1C152.7 94.9 157.3 96.0 161.1 97.7C164.9 99.4 168.1 101.5 170.8 104.2C173.5 106.9 175.7 109.3 177.3 113.9C178.9 118.5 180.1 128.8 180.6 131.8L170.8 132.6C170.5 130.3 170.0 122.6 168.9 118.8C167.8 115.0 166.5 112.3 164.4 109.9C162.3 107.5 159.6 105.8 156.3 104.2C153.1 102.7 148.7 101.5 144.9 100.6C141.1 99.7 135.4 99.3 133.5 99.0Z" fill="#d4d4d4" stroke="#555" stroke-width="0.5"/>
<path d="M133.5 94.7C135.8 94.9 142.8 95.2 147.1 96.0C151.5 96.9 156.0 98.0 159.7 99.7C163.3 101.3 166.4 103.3 168.9 105.9C171.4 108.5 173.3 111.0 174.8 115.4C176.2 119.7 177.2 129.3 177.7 132.0" fill="none" stroke="#fff" stroke-width="1.6" stroke-linecap="butt"/>
<path d="M133.5 96.9C135.6 97.1 141.9 97.5 146.0 98.4C150.1 99.2 154.5 100.4 157.9 102.0C161.4 103.6 164.3 105.4 166.6 108.0C168.9 110.5 170.5 113.1 171.8 117.1C173.0 121.2 173.7 129.8 174.1 132.3" fill="none" stroke="#2b2b2b" stroke-width="1.9" stroke-linecap="butt"/>
<path d="M133.5 98.3C135.5 98.5 141.4 99.0 145.3 99.8C149.2 100.7 153.6 101.9 156.9 103.4C160.2 105.0 163.0 106.8 165.2 109.2C167.3 111.7 168.8 114.3 169.9 118.2C171.0 122.1 171.6 130.1 172.0 132.5" fill="none" stroke="#bbb" stroke-width="0.8" stroke-linecap="butt"/>
<path d="M133.5 93.0C135.9 93.3 143.4 93.5 148.0 94.4C152.5 95.2 157.1 96.3 160.9 98.0C164.7 99.6 167.9 101.7 170.5 104.4C173.2 107.1 175.4 109.5 177.0 114.1C178.6 118.7 179.7 128.9 180.2 131.8" fill="none" stroke="#444" stroke-width="0.6" stroke-linecap="butt"/>
</g>
<g>
<path d="M116.3 373.3L201.4 384V429.4L116.3 415.6Z" stroke="#b5b5b5" stroke-width="0.4" fill="url(#plate)" />
<path d="M200.6 384V429.2" stroke="#b8b8b8" stroke-width="1.5" fill="none" />
<path d="M116.3 373.6L201.4 384.3" stroke="#c4c4c4" stroke-width="0.8" fill="none" />
<path d="M181 388.5C179.8 388.5 177.9 387.9 174.0 388.4C170.1 388.9 162.9 390.2 157.6 391.3C152.3 392.4 146.6 393.8 142.0 394.8C137.4 395.8 133.9 396.5 129.8 397.4C125.7 398.3 121.4 399.2 117.4 400.0C113.5 400.8 109.4 401.4 106.1 402.0C102.8 402.6 100.2 402.9 97.8 403.6C95.4 404.3 93.5 404.8 91.6 406.2C89.7 407.6 88.0 409.5 86.5 411.8C85.0 414.1 83.4 417.0 82.3 420.1C81.2 423.2 80.4 426.9 79.7 430.4C79.0 433.8 78.3 439.1 78.0 440.8L86.5 441.8C86.7 440.8 87.1 438.0 87.5 435.6C87.9 433.2 88.3 430.1 89.0 427.3C89.7 424.6 90.6 421.4 91.6 419.1C92.6 416.8 93.8 414.9 95.2 413.4C96.6 411.9 97.9 411.2 99.9 410.3C101.9 409.4 104.2 408.9 107.1 408.2C110.0 407.5 113.6 406.9 117.4 406.2C121.2 405.5 125.7 404.8 129.8 404.1C133.9 403.4 137.4 402.8 142.0 402.0C146.6 401.2 152.3 400.3 157.6 399.5C162.9 398.7 169.8 397.8 174.0 397.3C178.2 396.8 181.5 396.6 183.0 396.5Z" fill="#a2a2a2" stroke="#777" stroke-width="0.4"/>
<path d="M181.5 390.6C180.3 390.6 178.0 390.2 174.0 390.7C170.0 391.2 162.9 392.4 157.6 393.4C152.3 394.4 146.6 395.7 142.0 396.7C137.4 397.6 133.9 398.3 129.8 399.1C125.7 400.0 119.5 401.2 117.4 401.6" fill="none" stroke="#262626" stroke-width="3.2"/>
<path d="M182.2 393.5C180.9 393.5 178.1 393.4 174.0 393.9C169.9 394.4 162.9 395.5 157.6 396.4C152.3 397.3 146.6 398.4 142.0 399.3C137.4 400.1 133.9 400.8 129.8 401.6C125.7 402.3 119.5 403.5 117.4 403.8" fill="none" stroke="#d0d0d0" stroke-width="0.8"/>
<path d="M117.4 401.4C115.6 401.7 109.5 402.7 106.3 403.4C103.1 404.0 100.6 404.3 98.3 405.1C95.9 405.8 94.2 406.4 92.4 407.8C90.6 409.2 89.1 411.1 87.6 413.4C86.2 415.7 84.8 418.7 83.8 421.7C82.7 424.7 82.1 428.3 81.4 431.5C80.8 434.8 80.1 439.4 79.9 441.0" fill="none" stroke="#f4f4f4" stroke-width="1.7"/>
<path d="M117.4 403.6C115.6 403.9 109.7 404.9 106.7 405.6C103.6 406.2 101.2 406.7 99.0 407.5C96.9 408.3 95.3 409.0 93.7 410.4C92.1 411.8 90.7 413.7 89.5 416.0C88.2 418.4 87.1 421.4 86.2 424.3C85.3 427.2 84.8 430.6 84.2 433.4C83.7 436.3 83.1 440.1 82.9 441.4" fill="none" stroke="#2c2c2c" stroke-width="2.4"/>
<path d="M117.4 405.6C115.7 405.9 110.0 406.9 107.0 407.6C104.0 408.3 101.7 408.8 99.7 409.6C97.7 410.5 96.3 411.2 94.8 412.7C93.4 414.1 92.2 416.1 91.1 418.4C90.0 420.7 89.1 423.8 88.3 426.6C87.6 429.4 87.2 432.6 86.7 435.1C86.3 437.6 85.8 440.6 85.7 441.7" fill="none" stroke="#cfcfcf" stroke-width="0.9"/>
<path d="M160.7 399.3L186.5 392.8Q193.4 392.5 193.4 399.5Q193.4 405.6 188.5 407L162.8 414.8Z" stroke="#222" stroke-width="0.4" fill="#242424" />
<path d="M164 400.2L174 397.7" stroke="#d8d8d8" stroke-width="1.6" fill="none" />
<path d="M166 411.5L175 408.9" stroke="#8a8a8a" stroke-width="1.2" fill="none" />
<path d="M178 398.4L190 395.4" stroke="#777" stroke-width="0.9" fill="none" />
<path d="M176.3 395.2L177 411" stroke="#000" stroke-width="0.9" fill="none" />
<ellipse cx="160.7" cy="406.6" rx="5.4" ry="7.8" stroke="#bbb" stroke-width="0.4" fill="url(#knob)"  transform="rotate(-8 160.7 406.6)"/>
<path d="M163.5 414.8V432.2" stroke="#4a4a4a" stroke-width="2.7" fill="none" />
<path d="M163.2 414.8V432.2" stroke="#b0b0b0" stroke-width="0.8" fill="none" />
<path d="M185.5 408.5V425.6" stroke="#3a3a3a" stroke-width="2.9" fill="none" />
<path d="M185.2 408.5V425.6" stroke="#8a8a8a" stroke-width="0.7" fill="none" />
<path d="M181.6 410.5L183.6 413.5" stroke="#555" stroke-width="1.6" fill="none" />
</g>
<g>
<ellipse cx="140.5" cy="671.8" rx="12.4" ry="14.9" stroke="#666" stroke-width="0.5" fill="url(#disc)" />
<path d="M148.5 660.5A12.4 14.9 0 0 1 151.8 678" stroke="#2a2a2a" stroke-width="2.2" fill="none" />
<path d="M131 662.5A12.4 14.9 0 0 1 140 657.2" stroke="#777" stroke-width="1.1" fill="none" />
<path d="M132 680.5Q140 686.5 148.5 680" stroke="#b0b0b0" stroke-width="3.2" fill="none" />
<path d="M150.8 666.6C149.3 667.1 145.5 668.2 142.0 669.5C138.5 670.8 133.9 672.9 129.8 674.5C125.7 676.1 121.5 677.6 117.4 679.1C113.3 680.6 108.6 682.2 105.0 683.5C101.4 684.8 98.3 685.7 95.7 686.8C93.1 687.9 91.5 688.4 89.6 689.9C87.7 691.4 85.8 693.4 84.4 695.6C83.0 697.9 82.1 700.5 81.3 703.4C80.5 706.2 80.1 709.6 79.7 712.7C79.3 715.8 79.1 720.4 79.0 721.9L87 722.5C87.1 721.2 87.2 717.4 87.5 714.7C87.8 712.0 88.0 709.0 88.5 706.5C89.0 704.0 89.7 701.6 90.6 699.7C91.5 697.8 92.5 696.4 93.7 695.1C94.9 693.9 95.9 693.2 97.8 692.2C99.7 691.2 101.7 690.6 105.0 689.4C108.3 688.2 113.3 686.3 117.4 684.8C121.5 683.2 125.7 681.6 129.8 680.1C133.9 678.6 138.5 677.0 142.0 675.7C145.5 674.4 149.3 672.8 150.8 672.2Z" fill="#b4b4b4" stroke="#666" stroke-width="0.4"/>
<path d="M150.8 667.2C149.3 667.7 145.5 668.8 142.0 670.1C138.5 671.4 133.9 673.5 129.8 675.1C125.7 676.7 121.5 678.2 117.4 679.7C113.3 681.2 108.6 682.8 105.0 684.1C101.4 685.4 98.4 686.3 95.9 687.3C93.4 688.4 91.8 689.0 90.0 690.4C88.2 691.9 86.4 693.8 85.0 696.0C83.7 698.2 82.8 700.9 82.0 703.7C81.3 706.5 80.8 709.9 80.5 712.9C80.1 715.9 79.9 720.5 79.8 722.0" fill="none" stroke="#333" stroke-width="0.9"/>
<path d="M150.8 668.4C149.3 669.0 145.5 670.2 142.0 671.5C138.5 672.9 133.9 674.8 129.8 676.3C125.7 677.9 121.5 679.5 117.4 681.0C113.3 682.5 108.5 684.2 105.0 685.4C101.5 686.7 98.7 687.6 96.4 688.6C94.1 689.6 92.6 690.2 91.0 691.6C89.3 693.0 87.7 694.8 86.4 697.0C85.2 699.1 84.4 701.7 83.7 704.4C83.0 707.2 82.6 710.4 82.3 713.4C81.9 716.3 81.7 720.6 81.6 722.1" fill="none" stroke="#fafafa" stroke-width="1.5"/>
<path d="M150.8 670.4C149.3 671.0 145.5 672.4 142.0 673.7C138.5 675.0 133.9 676.8 129.8 678.3C125.7 679.9 121.5 681.4 117.4 683.0C113.3 684.5 108.4 686.3 105.0 687.5C101.6 688.8 99.2 689.5 97.1 690.5C95.0 691.5 93.8 692.1 92.4 693.4C91.0 694.8 89.6 696.4 88.6 698.4C87.6 700.4 86.8 702.9 86.2 705.5C85.6 708.1 85.3 711.3 85.0 714.1C84.7 716.9 84.5 720.9 84.4 722.3" fill="none" stroke="#2a2a2a" stroke-width="1.9"/>
<path d="M150.8 671.8C149.3 672.4 145.5 673.9 142.0 675.3C138.5 676.6 133.9 678.2 129.8 679.7C125.7 681.2 121.5 682.9 117.4 684.4C113.3 685.9 108.3 687.8 105.0 689.0C101.7 690.2 99.6 690.9 97.7 691.8C95.7 692.8 94.7 693.5 93.4 694.7C92.2 696.0 91.1 697.5 90.2 699.4C89.3 701.3 88.5 703.8 88.0 706.3C87.5 708.8 87.2 711.9 87.0 714.6C86.7 717.3 86.5 721.1 86.4 722.5" fill="none" stroke="#e0e0e0" stroke-width="0.7"/>
<ellipse cx="178.7" cy="680.4" rx="12.4" ry="15" stroke="#555" stroke-width="0.5" fill="url(#disc)" />
<path d="M171.5 668.2A12.4 15 0 0 1 188.5 671.2" stroke="#2a2a2a" stroke-width="2.2" fill="none" />
<path d="M190.8 684A12.4 15 0 0 1 181 695" stroke="#333" stroke-width="2.4" fill="none" />
<path d="M166 679.5L181.5 673V690.5L171 694.8Z" stroke="#222" stroke-width="0.3" fill="#5a5a5a" />
<path d="M168.8 679.6L181 674.5" stroke="#f2f2f2" stroke-width="2" fill="none" />
<path d="M173 686.2L190 679.2" stroke="#222" stroke-width="3.4" fill="none" />
<path d="M175 691.2L189 685.6" stroke="#cfcfcf" stroke-width="1.8" fill="none" />
<ellipse cx="167.8" cy="686.1" rx="6.7" ry="7.8" stroke="#aaa" stroke-width="0.4" fill="url(#knob)"  transform="rotate(14 167.8 686.1)"/>
<path d="M170.7 693.9V712.5" stroke="#8a8a8a" stroke-width="3.4" fill="none" />
<path d="M170.5 693.9V712.5" stroke="#e6e6e6" stroke-width="1.7" fill="none" />
</g>
<polygon points="88.6,353.3 90.3,357.3 93.4,353.7 93.6,357.7 97.9,354.7 96.5,358.6 101.8,356.5 98.9,359.9 104.8,358.7 100.6,361.5 106.7,361.3 101.5,363.2 107.3,364.1 101.5,365.0 106.7,366.9 100.6,366.7 104.8,369.5 98.9,368.3 101.8,371.7 96.5,369.6 97.9,373.5 93.6,370.5 93.4,374.5 90.3,370.9 88.6,374.9 86.9,370.9 83.8,374.5 83.6,370.5 79.2,373.5 80.7,369.6 75.4,371.7 78.3,368.3 72.4,369.5 76.6,366.7 70.5,366.9 75.7,365.0 69.9,364.1 75.7,363.2 70.5,361.3 76.6,361.5 72.4,358.7 78.3,359.9 75.4,356.5 80.7,358.6 79.2,354.7 83.6,357.7 83.8,353.7 86.9,357.3" fill="#161616"/>
<text x="88.8" y="367.5" font-size="11.5" font-weight="bold" font-style="italic" fill="#f4f4f4" text-anchor="middle" textLength="20.7" lengthAdjust="spacingAndGlyphs">new</text>
<polygon points="86.4,634.6 88.1,638.6 91.2,635.0 91.4,639.0 95.8,636.0 94.3,639.9 99.6,637.8 96.7,641.2 102.6,640.0 98.4,642.8 104.5,642.6 99.3,644.5 105.1,645.4 99.3,646.3 104.5,648.2 98.4,648.0 102.6,650.8 96.7,649.6 99.6,653.0 94.3,650.9 95.8,654.8 91.4,651.8 91.2,655.8 88.1,652.2 86.4,656.2 84.7,652.2 81.6,655.8 81.4,651.8 77.1,654.8 78.5,650.9 73.2,653.0 76.1,649.6 70.2,650.8 74.4,648.0 68.3,648.2 73.5,646.3 67.7,645.4 73.5,644.5 68.3,642.6 74.4,642.8 70.2,640.0 76.1,641.2 73.2,637.8 78.5,639.9 77.0,636.0 81.4,639.0 81.6,635.0 84.7,638.6" fill="#161616"/>
<text x="86.60000000000001" y="648.8" font-size="11.5" font-weight="bold" font-style="italic" fill="#f4f4f4" text-anchor="middle" textLength="20.7" lengthAdjust="spacingAndGlyphs">new</text>
<g>
<path d="M360.5 262.5l1.3 -4.5l1.3 4.5v3.5h-2.6zM361 266h1.6" stroke="#999" stroke-width="0.4" fill="none" />
<path d="M365 261.3h2.5M365 266.8h2.5" stroke="#aaa" stroke-width="0.6" fill="none" />
<rect x="371" y="256.3" width="20.5" height="13" rx="2.5" fill="url(#cyl)"/>
<ellipse cx="389.5" cy="262.8" rx="2.6" ry="6" fill="#c6c6c6"/>
<ellipse cx="398" cy="263" rx="4.6" ry="7.2" fill="#a6a6a6"/><ellipse cx="399" cy="263" rx="2.7" ry="5.2" fill="#dedede"/>
<rect x="405.3" y="254" width="21" height="18.2" rx="3" fill="url(#cyl)"/>
<ellipse cx="424" cy="263.1" rx="2.6" ry="8.4" fill="#cfcfcf"/>
</g>
<g transform="translate(0 0)">
<rect x="437.8" y="535.7" width="17.4" height="12" rx="2" fill="url(#cyl)"/>
<rect x="437.8" y="534.9" width="3.6" height="13.6" rx="1.2" fill="#9a9a9a"/>
<ellipse cx="453.8" cy="541.7" rx="2" ry="5" fill="#c4c4c4"/>
<rect x="457.7" y="535" width="21.9" height="13.6" rx="2.2" fill="url(#cyl)"/>
<rect x="459.5" y="534.4" width="4" height="15" rx="1.3" fill="#a0a0a0"/>
<ellipse cx="477.8" cy="541.8" rx="2" ry="5.6" fill="#c8c8c8"/>
<rect x="432" y="538.3" width="3.2" height="4" rx=".8" fill="#2a2a2a"/><rect x="432.8" y="542" width="1.8" height="4.6" fill="#444"/>
<rect x="425.3" y="536.5" width="2.4" height=".9" fill="#777"/><rect x="426.4" y="543.6" width="2" height=".9" fill="#777"/>
<rect x="424.6" y="549.6" width="11" height="12.8" rx="2.4" fill="url(#cyl)"/>
<ellipse cx="433.6" cy="556" rx="2.2" ry="5" fill="#c9c9c9"/><rect x="422.6" y="552.5" width="2.4" height="7" fill="#bbb"/>
<circle cx="415.9" cy="555.7" r="1.5" stroke="#555" stroke-width="0.8" fill="none" />
<circle cx="419.6" cy="555.7" r="1.5" stroke="#555" stroke-width="0.8" fill="none" />
<path d="M441.4 553.8H455.5M438.2 558.6H451.5" stroke="#b5b5b5" stroke-width="0.9" fill="none" />
</g>
<g transform="translate(0 266.2)">
<rect x="437.8" y="535.7" width="17.4" height="12" rx="2" fill="url(#cyl)"/>
<rect x="437.8" y="534.9" width="3.6" height="13.6" rx="1.2" fill="#9a9a9a"/>
<ellipse cx="453.8" cy="541.7" rx="2" ry="5" fill="#c4c4c4"/>
<rect x="457.7" y="535" width="21.9" height="13.6" rx="2.2" fill="url(#cyl)"/>
<rect x="459.5" y="534.4" width="4" height="15" rx="1.3" fill="#a0a0a0"/>
<ellipse cx="477.8" cy="541.8" rx="2" ry="5.6" fill="#c8c8c8"/>
<rect x="432" y="538.3" width="3.2" height="4" rx=".8" fill="#2a2a2a"/><rect x="432.8" y="542" width="1.8" height="4.6" fill="#444"/>
<rect x="425.3" y="536.5" width="2.4" height=".9" fill="#777"/><rect x="426.4" y="543.6" width="2" height=".9" fill="#777"/>
<rect x="424.6" y="549.6" width="11" height="12.8" rx="2.4" fill="url(#cyl)"/>
<ellipse cx="433.6" cy="556" rx="2.2" ry="5" fill="#c9c9c9"/><rect x="422.6" y="552.5" width="2.4" height="7" fill="#bbb"/>
<circle cx="415.9" cy="555.7" r="1.5" stroke="#555" stroke-width="0.8" fill="none" />
<circle cx="419.6" cy="555.7" r="1.5" stroke="#555" stroke-width="0.8" fill="none" />
<path d="M441.4 553.8H455.5M438.2 558.6H451.5" stroke="#b5b5b5" stroke-width="0.9" fill="none" />
</g></svg>
</div>
</body></html>
